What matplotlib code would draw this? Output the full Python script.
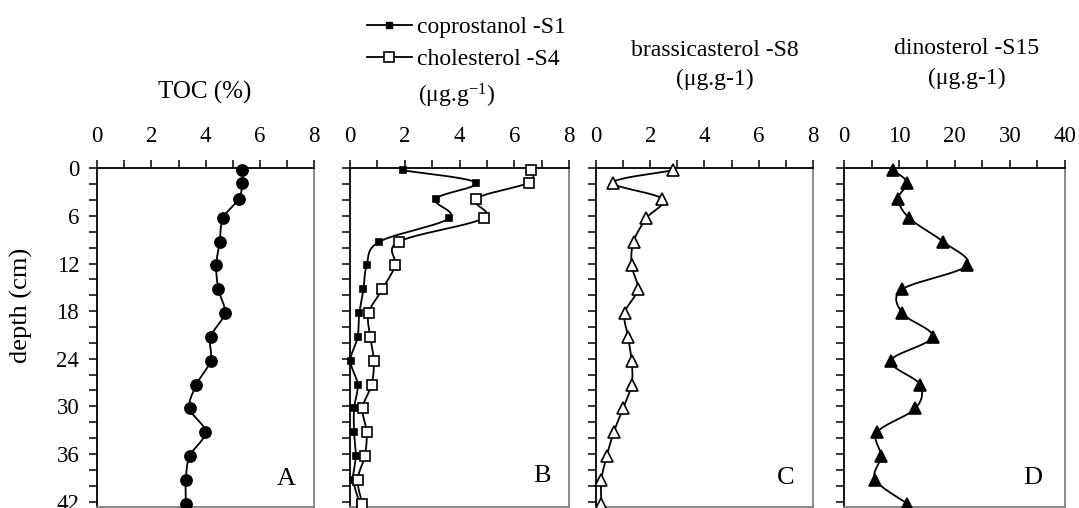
import numpy as np
import matplotlib
matplotlib.use("Agg")
import matplotlib.pyplot as plt
from matplotlib.ticker import MultipleLocator
from matplotlib.lines import Line2D

plt.rcParams['font.family'] = ['Liberation Serif', 'DejaVu Serif']
plt.rcParams['mathtext.fontset'] = 'custom'
plt.rcParams['mathtext.rm'] = 'Liberation Serif'
plt.rcParams['mathtext.it'] = 'Liberation Serif:italic'

# ---------------- data ----------------
depth = [0.25, 1.8, 3.85, 6.3, 9.25, 12.25, 15.25, 18.25, 21.25, 24.25,
         27.25, 30.25, 33.25, 36.25, 39.25, 42.25]
toc = [5.36, 5.36, 5.22, 4.64, 4.52, 4.39, 4.47, 4.70, 4.18, 4.18,
       3.66, 3.41, 3.99, 3.41, 3.27, 3.27]
coprostanol = [1.92, 4.60, 3.13, 3.63, 1.07, 0.61, 0.49, 0.34, 0.28, 0.02,
               0.28, 0.15, 0.15, 0.21, 0.12, 0.36]
cholesterol = [6.60, 6.54, 4.60, 4.88, 1.78, 1.65, 1.18, 0.68, 0.74, 0.87,
               0.79, 0.46, 0.61, 0.54, 0.28, 0.45]
brassicasterol = [2.84, 0.61, 2.44, 1.85, 1.38, 1.31, 1.53, 1.05, 1.18, 1.31,
                  1.31, 0.99, 0.65, 0.39, 0.19, 0.19]
dinosterol = [8.77, 11.4, 9.8, 11.8, 17.9, 22.2, 10.5, 10.5, 16.0, 8.46,
              13.7, 12.9, 5.98, 6.65, 5.62, 11.4]

panel_letters = ['A', 'B', 'C', 'D']
xlims = [(0, 8), (0, 8), (0, 8), (0, 40)]
xmajor = [2, 2, 2, 10]
xminor = [1, 1, 1, 5]

W, H = 1079, 508
fig = plt.figure(figsize=(W / 100, H / 100), dpi=100)

def fx(px):
    return px / W

def fy(py):
    return 1 - py / H

ax_px = [(97.3, 314.0), (350.0, 569.0), (596.2, 812.7), (844.3, 1065.0)]
top_px, bot_px = 168.3, 506.7
axes = []
for (l, r) in ax_px:
    ax = fig.add_axes([fx(l), fy(bot_px), (r - l) / W, (bot_px - top_px) / H])
    axes.append(ax)

for i, ax in enumerate(axes):
    ax.set_xlim(*xlims[i])
    ax.set_ylim(42.65, 0)
    ax.xaxis.set_major_locator(MultipleLocator(xmajor[i]))
    ax.xaxis.set_minor_locator(MultipleLocator(xminor[i]))
    ax.yaxis.set_major_locator(MultipleLocator(6))
    ax.yaxis.set_minor_locator(MultipleLocator(2))
    ax.xaxis.tick_top()
    ax.tick_params(axis='x', which='both', direction='out', length=6, width=1.1,
                   top=True, bottom=False, labeltop=True, labelbottom=False,
                   labelsize=16.5, pad=9.5)
    ax.tick_params(axis='y', which='both', direction='out', length=6, width=1.1,
                   left=True, right=False, labelleft=(i == 0), labelsize=16.5, pad=7)
    for s in ['top', 'left']:
        ax.spines[s].set_color('black')
        ax.spines[s].set_linewidth(1.3)
    for s in ['right', 'bottom']:
        ax.spines[s].set_color('#808080')
        ax.spines[s].set_linewidth(1.3)


def smooth(ax, x, y, n=24):
    pts = ax.transData.transform(np.column_stack([x, y]))
    P = np.vstack([pts[0], pts, pts[-1]])
    out = []
    t = np.linspace(0, 1, n)[:, None]
    for k in range(1, len(P) - 2):
        p0, p1, p2, p3 = P[k - 1], P[k], P[k + 1], P[k + 2]
        c1 = p1 + (p2 - p0) / 6
        c2 = p2 - (p3 - p1) / 6
        seg = (1 - t) ** 3 * p1 + 3 * (1 - t) ** 2 * t * c1 + 3 * (1 - t) * t ** 2 * c2 + t ** 3 * p2
        out.append(seg if k == 1 else seg[1:])
    sp = ax.transData.inverted().transform(np.vstack(out))
    return sp[:, 0], sp[:, 1]


def series(ax, x, marker, ms, mfc, mew=1.2):
    sx, sy = smooth(ax, x, depth)
    ax.plot(sx, sy, color='black', lw=1.3, clip_on=False, zorder=2)
    ax.plot(x, depth, ls='none', marker=marker, ms=ms, mfc=mfc, mec='black',
            mew=mew, clip_on=False, zorder=3)

series(axes[0], toc, 'o', 8, 'black')
series(axes[1], coprostanol, 's', 4.5, 'black')
series(axes[1], cholesterol, 's', 7.5, 'white')
series(axes[2], brassicasterol, '^', 8.5, 'white')
series(axes[3], dinosterol, '^', 8.5, 'black')

# panel letters
letter_pos = [(286.7, 479), (542, 476), (786, 477.5), (1033, 477.7)]
for (px, py), L in zip(letter_pos, panel_letters):
    fig.text(fx(px), fy(py), L, ha='center', va='center', fontsize=19)

# titles
fig.text(fx(205), fy(92), 'TOC (%)', ha='center', va='center', fontsize=18)
fig.text(fx(457), fy(96), r'(μg.g$^{\mathregular{-1}}$)', ha='center', va='center', fontsize=17)
fig.text(fx(715), fy(51), 'brassicasterol -S8', ha='center', va='center', fontsize=17)
fig.text(fx(715), fy(79), '(μg.g-1)', ha='center', va='center', fontsize=17)
fig.text(fx(967), fy(48), 'dinosterol -S15', ha='center', va='center', fontsize=17)
fig.text(fx(967), fy(78), '(μg.g-1)', ha='center', va='center', fontsize=17)

# y label
fig.text(fx(21.7), fy(305), 'depth (cm)', rotation=90, ha='center', va='center', fontsize=19)

# legend
h1 = Line2D([], [], color='black', lw=1.3, marker='s', ms=4.5, mfc='black', mec='black')
h2 = Line2D([], [], color='black', lw=1.3, marker='s', ms=7.5, mfc='white', mec='black', mew=1.2)
fig.legend([h1, h2], ['coprostanol -S1', 'cholesterol -S4'], loc='center left',
           bbox_to_anchor=(fx(366.7), fy(43.4)), bbox_transform=fig.transFigure,
           frameon=False, fontsize=17, numpoints=1, handlelength=1.9,
           handletextpad=0.24, labelspacing=0.42, borderpad=0, borderaxespad=0)

fig.savefig('out.png', dpi=100)
